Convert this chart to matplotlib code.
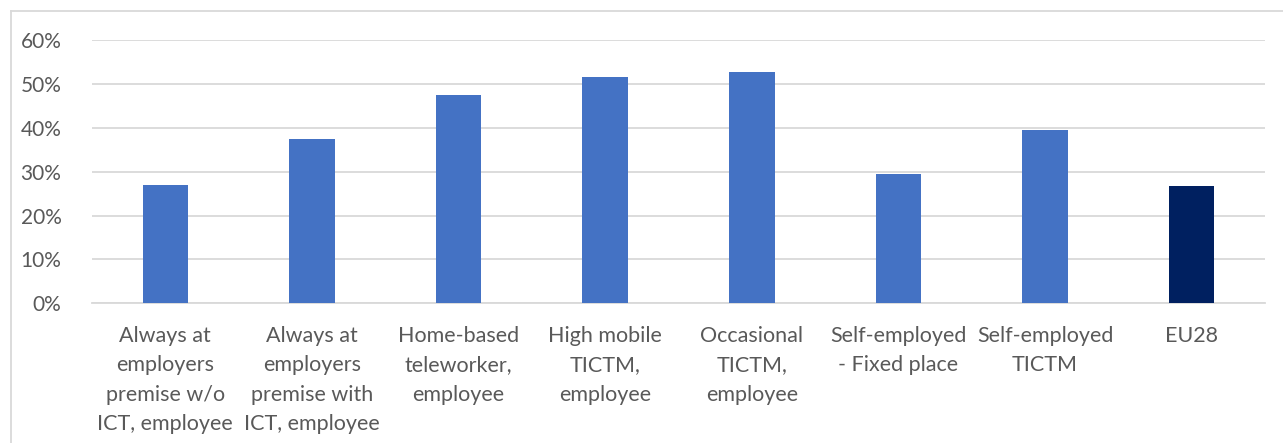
import matplotlib.pyplot as plt
from matplotlib.lines import Line2D
from matplotlib.ticker import PercentFormatter

categories = [
    'Always at\nemployers\npremise w/o\nICT, employee',
    'Always at\nemployers\npremise with\nICT, employee',
    'Home-based\nteleworker,\nemployee',
    'High mobile\nTICTM,\nemployee',
    'Occasional\nTICTM,\nemployee',
    'Self-employed\n- Fixed place',
    'Self-employed\nTICTM',
    'EU28',
]
values = [0.270, 0.374, 0.474, 0.516, 0.527, 0.295, 0.395, 0.267]
colors = ['#4472C4'] * 7 + ['#002060']

plt.rcParams['font.family'] = ['Lato', 'DejaVu Sans']
text_color = '#595959'

W, H = 1283, 443
fig = plt.figure(figsize=(W / 100, H / 100), dpi=100)
ax = fig.add_axes([92 / W, 1 - 303.3 / H, (1265 - 92) / W, (303.3 - 40) / H])

x = range(len(categories))
ax.bar(x, values, width=0.31, color=colors, zorder=3)

ax.set_ylim(0, 0.6)
ax.set_xlim(-0.5, len(categories) - 0.5)
ax.set_yticks([0, 0.1, 0.2, 0.3, 0.4, 0.5, 0.6])
ax.yaxis.set_major_formatter(PercentFormatter(1.0, decimals=0))
ax.grid(axis='y', color='#D9D9D9', linewidth=1.3, zorder=0)
ax.set_xticks(list(x))
ax.set_xticklabels(categories, linespacing=1.6)

for s in ['top', 'right', 'left']:
    ax.spines[s].set_visible(False)
ax.spines['bottom'].set_color('#D9D9D9')
ax.spines['bottom'].set_linewidth(1.3)
ax.tick_params(axis='both', length=0, colors=text_color)
ax.tick_params(axis='x', pad=16, labelsize=15.5)
ax.tick_params(axis='y', pad=22, labelsize=15)
for lbl in ax.get_xticklabels():
    lbl.set_verticalalignment('top')

# chart border (top and left edges visible)
fig.add_artist(Line2D([11 / W, 1], [1 - 10.5 / H, 1 - 10.5 / H], color='#D9D9D9', lw=1.3))
fig.add_artist(Line2D([11 / W, 11 / W], [0, 1 - 10.5 / H], color='#D9D9D9', lw=1.3))

fig.savefig('out.png', dpi=100, facecolor='white')
